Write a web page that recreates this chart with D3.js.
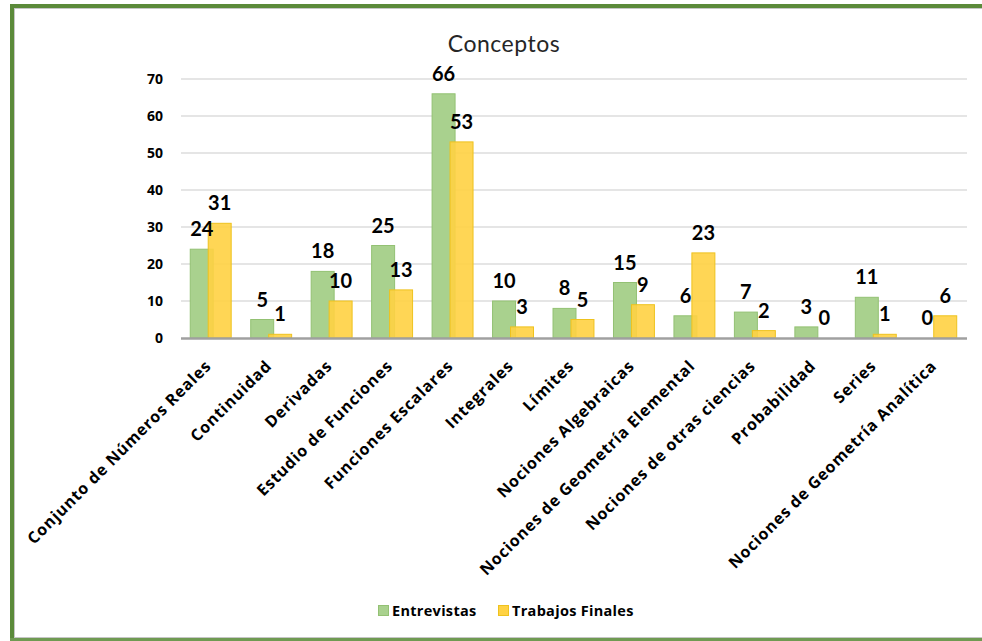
<!DOCTYPE html>
<html><head><meta charset="utf-8">
<script src="https://cdn.jsdelivr.net/npm/d3@7"></script>
<style>
html,body{margin:0;padding:0;background:#fff;overflow:hidden;}
svg{display:block;font-family:Lato,"Open Sans",sans-serif;}
</style></head>
<body>
<script>
const categories = ["Conjunto de Números Reales","Continuidad","Derivadas","Estudio de Funciones","Funciones Escalares","Integrales","Límites","Nociones Algebraicas","Nociones de Geometría Elemental","Nociones de otras ciencias","Probabilidad","Series","Nociones de Geometría Analítica"];
const entrevistas = [24,5,18,25,66,10,8,15,6,7,3,11,0];
const trabajosFinales = [31,1,10,13,53,3,5,9,23,2,0,1,6];
const seriesNames = ["Entrevistas","Trabajos Finales"];
const yTicks = [0,10,20,30,40,50,60,70];
const title = "Conceptos";

const W=982,H=641;
const svg=d3.select("body").append("svg").attr("width",W).attr("height",H);
svg.append("rect").attr("width",W).attr("height",H).attr("fill","#fff");

// frame
svg.append("line").attr("x1",14).attr("x2",W).attr("y1",8.5).attr("y2",8.5).attr("stroke","#c6c6c6").attr("stroke-width",1);
svg.append("line").attr("x1",14.5).attr("x2",14.5).attr("y1",8).attr("y2",638).attr("stroke","#c6c6c6").attr("stroke-width",1);
svg.append("line").attr("x1",14).attr("x2",W).attr("y1",637.5).attr("y2",637.5).attr("stroke","#c6c6c6").attr("stroke-width",1);
svg.append("line").attr("x1",10).attr("x2",W).attr("y1",6).attr("y2",6).attr("stroke","#5b8a3a").attr("stroke-width",4);
svg.append("line").attr("x1",12).attr("x2",12).attr("y1",4).attr("y2",H).attr("stroke","#5b8a3a").attr("stroke-width",4);
svg.append("line").attr("x1",10).attr("x2",W).attr("y1",639.5).attr("y2",639.5).attr("stroke","#6f9a52").attr("stroke-width",3);

const x=d3.scaleBand().domain(categories).range([181,967]);
const y=d3.scaleLinear().domain([0,70]).range([338,79]);
const bw=x.bandwidth();
const barW=bw*0.38;
const gOff=-bw*0.347, yOff=-bw*0.05;

// grid
svg.append("g").selectAll("line").data(yTicks.filter(t=>t>0)).join("line")
 .attr("x1",181).attr("x2",967).attr("y1",d=>y(d)).attr("y2",d=>y(d))
 .attr("stroke","#dcdcdc").attr("stroke-width",1.5);

// y axis labels
const yAxis=d3.axisLeft(y).tickValues(yTicks).tickSize(0).tickPadding(18);
const ga=svg.append("g").attr("transform","translate(181,0)").call(yAxis);
ga.select(".domain").remove();
ga.selectAll("text").attr("font-size",14).attr("font-weight","bold").attr("fill","#000").attr("font-family","'Open Sans',sans-serif");

const data=categories.map((c,i)=>({c,e:entrevistas[i],t:trabajosFinales[i]}));
const cx=d=>x(d.c)+bw/2;

// green bars
svg.append("g").selectAll("rect").data(data).join("rect")
 .attr("x",d=>cx(d)+gOff).attr("width",barW)
 .attr("y",d=>y(d.e)).attr("height",d=>y(0)-y(d.e))
 .attr("fill","#a9d18e").attr("stroke","#93c173").attr("stroke-width",1);
// yellow bars
svg.append("g").selectAll("rect").data(data).join("rect")
 .attr("x",d=>cx(d)+yOff).attr("width",barW)
 .attr("y",d=>y(d.t)).attr("height",d=>y(0)-y(d.t))
 .attr("fill","#ffd243").attr("fill-opacity",0.9).attr("stroke","#eec21e").attr("stroke-width",1);

// baseline
svg.append("line").attr("x1",181).attr("x2",967).attr("y1",338.5).attr("y2",338.5).attr("stroke","#a0a0a0").attr("stroke-width",2.5);

// data labels
const gx=d=>cx(d)+gOff+barW/2, yx=d=>cx(d)+yOff+barW/2;
svg.append("g").selectAll("text").data(data).join("text")
 .attr("x",gx).attr("y",d=>y(d.e)-13).attr("text-anchor","middle")
 .attr("font-size",20).attr("font-weight","bold").text(d=>d.e);
svg.append("g").selectAll("text").data(data).join("text")
 .attr("x",yx).attr("y",d=>y(d.t)-13).attr("text-anchor","middle")
 .attr("font-size",20).attr("font-weight","bold").text(d=>d.t);

// category labels
svg.append("g").selectAll("text").data(categories).join("text")
 .attr("transform",d=>`translate(${x(d)+bw/2+1},${367}) rotate(-45)`)
 .attr("text-anchor","end").attr("font-size",16).attr("letter-spacing",0.8).attr("font-weight","bold").attr("fill","#000")
 .attr("font-family","'Open Sans',sans-serif").text(d=>d);

// title
svg.append("text").attr("x",504).attr("y",52).attr("text-anchor","middle").attr("font-size",23).attr("letter-spacing",0.5).attr("fill","#262626").text(title);

// legend
const lg=svg.append("g");
const colors=["#a9d18e","#ffd243"];
const lx=[378,498];
seriesNames.forEach((s,i)=>{
  lg.append("rect").attr("x",lx[i]+0.5).attr("y",605.5).attr("width",10).attr("height",10).attr("fill",colors[i]).attr("stroke",i?"#eec21e":"#93c173");
  lg.append("text").attr("x",lx[i]+14).attr("y",616).attr("font-size",14.5).attr("letter-spacing",0.3).attr("font-weight","bold").attr("fill","#000")
   .attr("font-family","'Open Sans',sans-serif").text(s);
});
</script>
</body></html>
